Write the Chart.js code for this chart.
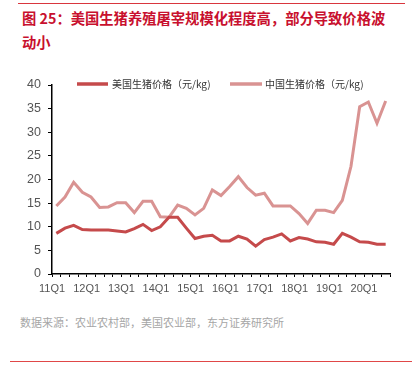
<!DOCTYPE html>
<html>
<head>
<meta charset="utf-8">
<script src="https://cdn.jsdelivr.net/npm/chart.js@4"></script>
<style>
  html, body { margin: 0; padding: 0; background: #fff; }
  body { width: 413px; height: 371px; position: relative; overflow: hidden; font-family: "Noto Sans CJK SC", "Liberation Sans", sans-serif; }
  #topline { position: absolute; left: 18px; top: 3px; width: 387px; height: 1px; background: #d9363e; }
  #title { position: absolute; left: 22px; top: 6px; font-size: 14.3px; font-weight: bold; color: #c8102e; line-height: 24px; white-space: nowrap; }
  #wrap { position: absolute; left: 0; top: 60px; width: 413px; height: 250px; }
  #source { position: absolute; left: 20px; top: 314px; font-size: 11px; color: #a6a6a6; white-space: nowrap; }
  #botline { position: absolute; left: 10px; top: 361px; width: 402px; height: 1px; background: #e04848; }
</style>
</head>
<body>
<div id="topline"></div>
<div id="title">图 25：美国生猪养殖屠宰规模化程度高，部分导致价格波<br>动小</div>
<div id="wrap"><canvas id="c"></canvas></div>
<div id="source">数据来源：农业农村部，美国农业部，东方证券研究所</div>
<div id="botline"></div>
<script>
const categories = [
  '11Q1','11Q2','11Q3','11Q4','12Q1','12Q2','12Q3','12Q4',
  '13Q1','13Q2','13Q3','13Q4','14Q1','14Q2','14Q3','14Q4',
  '15Q1','15Q2','15Q3','15Q4','16Q1','16Q2','16Q3','16Q4',
  '17Q1','17Q2','17Q3','17Q4','18Q1','18Q2','18Q3','18Q4',
  '19Q1','19Q2','19Q3','19Q4','20Q1','20Q2','20Q3'
];
const usPrice = [
  8.6, 9.7, 10.3, 9.4, 9.3, 9.3, 9.3, 9.1,
  8.9, 9.6, 10.5, 9.2, 10.0, 12.0, 12.0, 9.7,
  7.5, 8.0, 8.2, 7.0, 7.0, 8.0, 7.4, 5.9,
  7.3, 7.8, 8.5, 7.0, 7.7, 7.4, 6.8, 6.7,
  6.3, 8.6, 7.8, 6.8, 6.7, 6.3, 6.3
];
const cnPrice = [
  14.4, 16.3, 19.4, 17.3, 16.3, 14.1, 14.2, 15.1,
  15.1, 13.0, 15.4, 15.4, 12.1, 12.0, 14.6, 13.9,
  12.5, 13.9, 17.8, 16.6, 18.5, 20.6, 18.3, 16.7,
  17.1, 14.4, 14.4, 14.4, 12.8, 10.7, 13.5, 13.5,
  13.0, 15.6, 22.8, 35.4, 36.4, 31.9, 36.6
];
const seriesNames = ['美国生猪价格（元/kg)', '中国生猪价格（元/kg)'];
const yTicks = { min: 0, max: 40, step: 5 };

const usColor = '#c54a4b';
const cnColor = '#d99392';

const legendPlugin = {
  id: 'customLegend',
  afterDraw(chart) {
    const ctx = chart.ctx;
    const items = [
      { x0: 77, x1: 108, tx: 112 },
      { x0: 230, x1: 262, tx: 265 }
    ];
    const y = 24;
    ctx.save();
    chart.data.datasets.forEach((ds, i) => {
      const it = items[i];
      ctx.strokeStyle = ds.borderColor;
      ctx.lineWidth = 3.5;
      ctx.lineCap = 'butt';
      ctx.beginPath();
      ctx.moveTo(it.x0, y);
      ctx.lineTo(it.x1, y);
      ctx.stroke();
      ctx.fillStyle = '#333';
      ctx.font = '10px "Noto Sans CJK SC"';
      ctx.textBaseline = 'middle';
      ctx.textAlign = 'left';
      ctx.fillText(ds.label, it.tx, y);
    });
    ctx.restore();
  }
};

new Chart(document.getElementById('c'), {
  type: 'line',
  data: {
    labels: categories,
    datasets: [
      { label: seriesNames[0], data: usPrice, borderColor: usColor, backgroundColor: usColor, borderWidth: 3, pointRadius: 0, tension: 0 },
      { label: seriesNames[1], data: cnPrice, borderColor: cnColor, backgroundColor: cnColor, borderWidth: 3, pointRadius: 0, tension: 0 }
    ]
  },
  options: {
    responsive: true,
    maintainAspectRatio: false,
    animation: false,
    layout: { padding: { top: 25, right: 23, bottom: 16, left: 0 } },
    plugins: { legend: { display: false }, tooltip: { enabled: false } },
    scales: {
      x: {
        offset: true,
        grid: { display: true, offset: true, drawOnChartArea: false, drawTicks: true, tickLength: 3, color: '#000', lineWidth: 1 },
        border: { display: true, color: '#000', width: 1.5 },
        ticks: {
          autoSkip: false, maxRotation: 0, minRotation: 0, padding: 5, labelOffset: -4.3,
          color: '#555', font: { family: 'Liberation Sans', size: 11 },
          callback: function(v, i) { const l = categories[i]; return l.endsWith('Q1') ? l : ''; }
        },
        afterFit(scale) { scale.height = 20; }
      },
      y: {
        min: yTicks.min, max: yTicks.max,
        grid: { display: true, drawOnChartArea: false, drawTicks: true, tickLength: 4, color: '#000' },
        border: { display: true, color: '#000', width: 1.5 },
        ticks: { stepSize: yTicks.step, padding: 7, color: '#555', font: { family: 'Liberation Sans', size: 12.5 } },
        afterFit(scale) { scale.width = 52; }
      }
    }
  },
  plugins: [legendPlugin]
});
</script>
</body>
</html>
